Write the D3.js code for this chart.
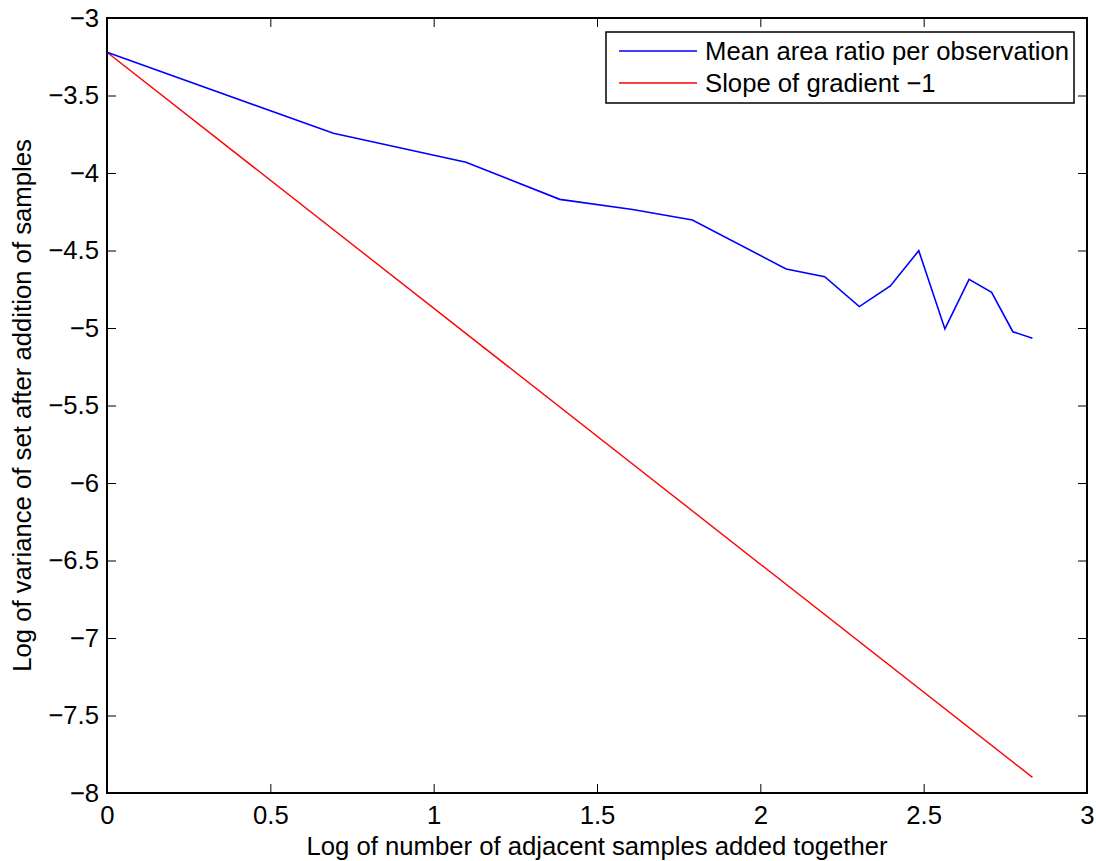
<!DOCTYPE html>
<meta charset="utf-8">
<style>
body { margin: 0; background: #fff; }
svg { font-family: "Liberation Sans", Arial, Helvetica, sans-serif; }
.tick text { font-size: 25.7px; fill: #000; }
.tick line { stroke: #000; stroke-width: 1; }
.domain { display: none; }
</style>
<body>
<script src="https://cdn.jsdelivr.net/npm/d3@7/dist/d3.min.js"></script>
<script>

// log of number of adjacent samples (x) and log of variance (y)
var meanX = [0, 0.693, 1.099, 1.386, 1.609, 1.792, 2.079, 2.197, 2.303, 2.398, 2.485, 2.565, 2.639, 2.708, 2.773, 2.833];
var meanY = [-3.221, -3.744, -3.931, -4.170, -4.236, -4.303, -4.619, -4.669, -4.862, -4.729, -4.501, -5.006, -4.686, -4.770, -5.024, -5.066];

var slopeX = [0, 2.833];
var slopeY = [-3.221, -7.899];

var xTicks = [0, 0.5, 1, 1.5, 2, 2.5, 3];
var yTicks = [-3, -3.5, -4, -4.5, -5, -5.5, -6, -6.5, -7, -7.5, -8];

var seriesNames = ["Mean area ratio per observation", "Slope of gradient \u22121"];
var seriesColours = ["#0000ff", "#ff0000"];

var width = 1096, height = 861;
var plotLeft = 107, plotRight = 1087, plotTop = 18, plotBottom = 793;

var x = d3.scaleLinear().domain([0, 3]).range([plotLeft, plotRight]);
var y = d3.scaleLinear().domain([-8, -3]).range([plotBottom, plotTop]);

var svg = d3.select("body").append("svg")
    .attr("width", width)
    .attr("height", height);

function fmt(d) { return d < 0 ? "\u2212" + Math.abs(d) : "" + d; }

// axes, ticks point inwards like matlab
svg.append("g")
    .attr("transform", "translate(0," + plotBottom + ")")
    .call(d3.axisBottom(x).tickValues(xTicks).tickSizeInner(-9).tickSizeOuter(0).tickPadding(13).tickFormat(fmt))
    .selectAll("text").attr("dy", "0.71em");

svg.append("g")
    .attr("transform", "translate(0," + plotTop + ")")
    .call(d3.axisTop(x).tickValues(xTicks).tickSizeInner(-9).tickSizeOuter(0).tickFormat(""));

svg.append("g")
    .attr("transform", "translate(" + plotLeft + ",0)")
    .call(d3.axisLeft(y).tickValues(yTicks).tickSizeInner(-9).tickSizeOuter(0).tickPadding(8).tickFormat(fmt));

svg.append("g")
    .attr("transform", "translate(" + plotRight + ",0)")
    .call(d3.axisRight(y).tickValues(yTicks).tickSizeInner(-9).tickSizeOuter(0).tickFormat(""));

// box
svg.append("rect")
    .attr("x", plotLeft).attr("y", plotTop)
    .attr("width", plotRight - plotLeft).attr("height", plotBottom - plotTop)
    .attr("fill", "none").attr("stroke", "#000").attr("stroke-width", 2);

var line = d3.line()
    .x(function(d) { return x(d[0]); })
    .y(function(d) { return y(d[1]); });

svg.append("path")
    .datum(d3.zip(slopeX, slopeY))
    .attr("d", line)
    .attr("fill", "none")
    .attr("stroke", seriesColours[1])
    .attr("stroke-width", 1.4);

svg.append("path")
    .datum(d3.zip(meanX, meanY))
    .attr("d", line)
    .attr("fill", "none")
    .attr("stroke", seriesColours[0])
    .attr("stroke-width", 1.6);

// axis titles
svg.append("text")
    .attr("x", 597)
    .attr("y", 855)
    .attr("text-anchor", "middle")
    .style("font-size", "25.7px")
    .text("Log of number of adjacent samples added together");

svg.append("text")
    .attr("transform", "translate(31," + ((plotTop + plotBottom) / 2) + ") rotate(-90)")
    .attr("text-anchor", "middle")
    .style("font-size", "25.7px")
    .text("Log of variance of set after addition of samples");

// legend
var legend = svg.append("g").attr("transform", "translate(606,32)");
legend.append("rect")
    .attr("width", 468).attr("height", 71)
    .attr("fill", "#fff").attr("stroke", "#000").attr("stroke-width", 1.5);

var item = legend.selectAll(".item")
    .data(seriesNames)
    .enter().append("g")
    .attr("class", "item")
    .attr("transform", function(d, i) { return "translate(0," + (19 + i * 32) + ")"; });

item.append("line")
    .attr("x1", 13).attr("x2", 91)
    .attr("stroke", function(d, i) { return seriesColours[i]; })
    .attr("stroke-width", 1.4);

item.append("text")
    .attr("x", 99)
    .attr("dy", "0.36em")
    .style("font-size", "25.7px")
    .text(function(d) { return d; });

</script>
</body>
